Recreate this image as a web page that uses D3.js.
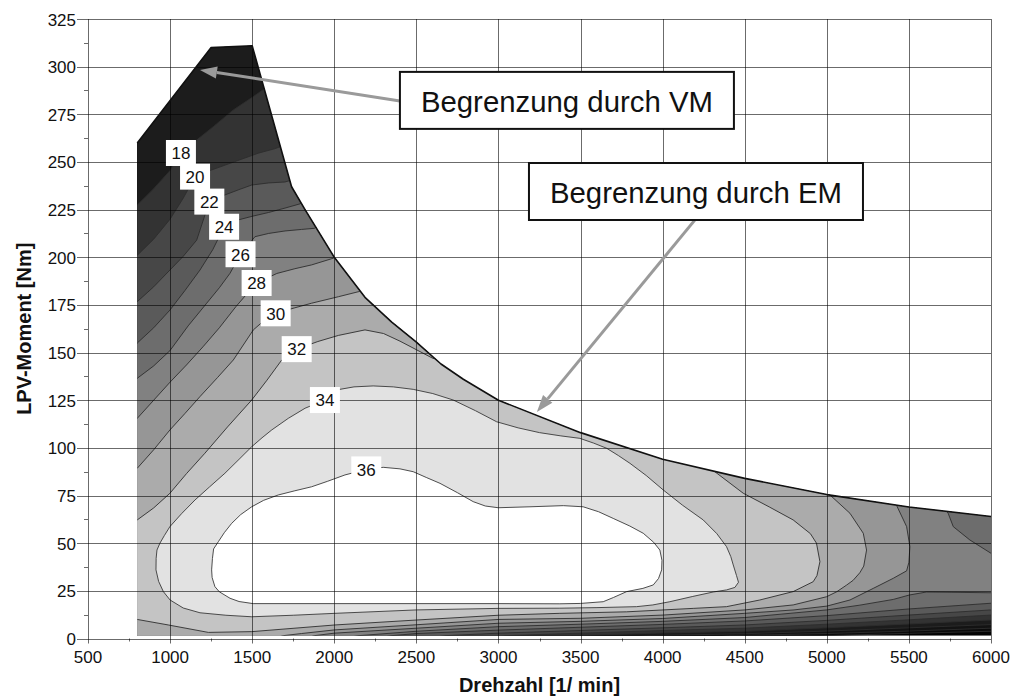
<!DOCTYPE html>
<html>
<head>
<meta charset="utf-8">
<script src="https://cdn.jsdelivr.net/npm/d3@7"></script>
<style>
  html, body { margin: 0; padding: 0; background: #fff; }
  svg { display: block; }
  text { font-family: "Liberation Sans", Arial, Helvetica, sans-serif; }
</style>
</head>
<body>
<svg id="chart" width="1016" height="697"></svg>
<script>
// ---- axes ----
const rpmTicks = d3.range(500, 6001, 500);
const torqueTicks = d3.range(0, 326, 25);

// ---- full-load limit: combustion engine (VM) at low speed, e-machine (EM) above ----
const fullLoadRpm = [800, 800, 1250, 1500, 1740, 1822, 2000, 2187, 2350, 2500, 2650, 2786, 3000, 3500, 4000, 4500, 5000, 5500, 6000, 6000];
const fullLoadNm  = [1.5, 260, 310, 311, 237, 225, 200, 179, 166, 155.5, 144, 136, 125, 108, 94, 84, 75.5, 69, 64, 1.5];

// ---- iso-lines [rpm, Nm] ----
// branches from the 800 rpm edge up to the full-load curve
const upper18 = [[790,226.5],[800,227.4],[900,236],[1000,245.5],[1066,254.7],[1162,261.5],[1263,268.5],[1385,277.3],[1507,284.3],[1560,287.5],[1620,291]];
const upper20 = [[790,200],[800,201],[900,209.5],[1000,220],[1080,231],[1152,242.3],[1243,245.5],[1395,250.2],[1537,254.6],[1640,257],[1700,259]];
const upper22 = [[790,176],[800,176.7],[900,184.5],[999,193.3],[1080,200.5],[1162,209],[1239,229.2],[1334,232.7],[1420,235.5],[1497,237.9],[1600,239],[1700,239.5],[1760,241]];
const upper24 = [[790,154],[800,155],[900,163],[999,172.3],[1090,182.5],[1182,193.3],[1260,204],[1329,216],[1415,219.6],[1500,221.5],[1600,223.5],[1700,225.8],[1790,228],[1830,231]];
const upper26 = [[790,135.5],[800,136.5],[900,143],[999,151],[1110,164],[1223,175.9],[1300,184],[1365,191.6],[1429,201.6],[1517,210.8],[1600,212.5],[1700,213.8],[1800,214.6],[1880,215.2],[1920,218]];
const upper28 = [[790,114.5],[800,115.5],[900,125],[1000,134.5],[1100,143.5],[1200,153],[1300,163],[1400,174],[1470,181],[1527,186.5],[1650,191.5],[1760,194],[1862,196],[1994,199.5],[2030,202]];
const upper30 = [[790,88.5],[800,89.3],[900,99],[999,109.4],[1090,118],[1182,126.9],[1290,137],[1385,146.1],[1507,161.9],[1575,167],[1643,170.6],[1760,173.5],[1862,175.9],[2025,179.3],[2150,182],[2190,184]];
const upper32 = [[790,61.5],[800,62.2],[900,68.5],[999,76.2],[1100,86.5],[1212,97.2],[1350,111],[1497,125.1],[1590,135.5],[1680,146.1],[1771,151.8],[1900,155.8],[2025,159],[2187,161.9],[2300,160],[2400,156],[2500,151.5],[2600,147],[2660,146]];

// branches coming down from the e-machine limit and running back along the low-torque band
const right28 = [[5410,72],[5424,70],[5486,58.7],[5506,48.2],[5500,40],[5486,35.5],[5405,31.6],[5283,26.3],[5141,20.2],[5000,17],[4800,15],[4500,13.2],[4000,10.5],[3500,9],[3000,8],[2500,5.4],[2000,2.8],[1880,1.5],[1840,0.5]];
const right30 = [[5000,77],[5019,75.3],[5141,65.7],[5222,55.2],[5242,46.4],[5225,38],[5201,34.5],[5160,30.5],[5120,28],[5060,24.5],[4998,21.9],[4795,17.6],[4501,15],[4004,12.3],[3502,10.6],[3000,10],[2500,7.2],[2000,4.5],[1800,2.6],[1690,1.5],[1650,0.5]];
const right32 = [[4300,90],[4318,87.5],[4491,76.2],[4650,69],[4795,62.2],[4900,55],[4937,50],[4958,40.3],[4940,33],[4917,29.8],[4795,24.6],[4592,20.2],[4389,16.7],[4186,15.8],[3781,14],[3374,13.2],[3000,12.2],[2502,9.7],[2004,7.1],[1497,3.6],[1233,3.2],[989,7.1],[800,10],[790,10.2]];
const corner26 = [[5720,68],[5739,65.7],[5770,58.7],[5871,51.7],[6000,44.7],[6020,44.5]];

// low-torque band lines running out to the 6000 rpm edge
const bottom12 = [[4900,0.5],[5000,1.5],[5500,2.7],[6000,3.8],[6020,3.8]];
const bottom14 = [[4300,0.5],[4400,1.5],[5000,2.6],[5500,3.9],[6000,5.4],[6020,5.4]];
const bottom16 = [[3800,0.5],[3900,1.5],[4500,2.5],[5000,3.9],[5500,5.6],[6000,7.3],[6020,7.3]];
const bottom18 = [[3350,0.5],[3450,1.5],[4000,2.9],[4500,3.8],[5000,5.6],[5500,7.6],[6000,9.7],[6020,9.7]];
const bottom20 = [[2950,0.5],[3050,1.5],[3500,2.8],[4000,4.2],[4500,5.4],[5000,7.5],[5500,9.8],[6000,12.3],[6020,12.3]];
const bottom22 = [[2600,0.5],[2680,1.5],[3000,2.8],[3500,4.2],[4000,5.6],[4500,7.1],[5000,9.5],[5500,12.3],[6000,15],[6020,15]];
const bottom24 = [[2280,0.5],[2350,1.5],[2500,2.6],[3000,4.4],[3500,5.9],[4000,7.4],[4500,9.2],[5000,12],[5500,15.5],[6000,18.5],[6020,18.5]];
const bottom26 = [[2080,0.5],[2150,1.5],[2500,3.8],[3000,6.2],[3500,7.5],[4000,9],[4500,11],[5000,15],[5201,17.5],[5405,20.5],[5502,22.8],[5607,24.4],[6000,24],[6020,24]];

// closed islands
const loop34 = [[1943,125.1],[2014,130.4],[2120,132],[2237,132.5],[2360,132],[2481,130.7],[2600,128.5],[2725,125.1],[2860,119.5],[2989,113.7],[3120,110.5],[3250,108],[3380,106.3],[3496,105],[3580,102.5],[3659,99.8],[3730,96],[3801,91.9],[3900,85.5],[4004,77.9],[4120,70],[4247,62.2],[4330,55],[4389,48.2],[4415,43],[4430,38.6],[4450,33],[4462,29.5],[4440,26.8],[4390,25.5],[4308,24.4],[4180,22],[4044,19.3],[3940,17.6],[3841,16.7],[3600,16.2],[3374,15.9],[2999,15.8],[2502,15],[2004,13.2],[1750,12.2],[1497,11.4],[1340,12.2],[1182,13.5],[1080,16],[1000,20.2],[959,24.6],[930,30],[914,36],[915,42],[920,46.4],[938,50],[965,54],[999,58.7],[1070,65.5],[1152,72.7],[1240,79.5],[1334,86.7],[1420,94],[1497,100.6],[1560,105.3],[1619,109.4],[1720,115.5],[1822,120.8]];
const loop36 = [[1506,18.3],[1420,19.4],[1365,21.1],[1300,24.5],[1273,27.2],[1256,32],[1253,36],[1258,42],[1265,47],[1294,50.8],[1330,55.5],[1375,60.4],[1430,65],[1497,69.1],[1570,72.5],[1659,75.3],[1760,77.5],[1862,79.6],[1960,82.5],[2065,85.8],[2195,88.7],[2298,89.8],[2400,89],[2481,87.5],[2560,84.5],[2644,81.4],[2750,76.5],[2846,71.8],[2920,69.5],[2999,68.6],[3192,69.1],[3395,69.7],[3516,69.1],[3610,66.5],[3699,63],[3800,59],[3882,55.2],[3945,50.5],[3983,46.4],[3996,41],[3994,36],[3975,31.5],[3943,28.1],[3880,26.3],[3781,24.6],[3700,21.5],[3638,19.3],[3500,18.4],[3374,18.2],[3000,18.3],[2500,18.3],[2000,18.3]];

// iso-line labels
const labelLevels = [18, 20, 22, 24, 26, 28, 30, 32, 34, 36];
const labelRpm    = [1066, 1152, 1239, 1329, 1429, 1527, 1643, 1771, 1943, 2195];
const labelNm     = [254.7, 242.3, 229.2, 216, 201.6, 186.5, 170.6, 151.8, 125.1, 88.7];

// callouts
const calloutText = ["Begrenzung durch VM", "Begrenzung durch EM"];
const calloutBoxRpm = [3417, 4203];     // box centre
const calloutBoxNm  = [282.3, 234.5];
const calloutFromRpm = [2400, 4197];    // arrow start
const calloutFromNm  = [282, 219.6];
const calloutToRpm = [1182, 3234];      // arrow tip
const calloutToNm  = [298.3, 118.8];

// ---- grey shade for each band (value >= level) ----
const bandShade = {
  base: "#030303", 12: "#0b0b0b", 14: "#131313", 16: "#1c1c1c", 18: "#333333", 20: "#474747",
  22: "#5a5a5a", 24: "#6d6d6d", 26: "#818181", 28: "#969696", 30: "#ababab",
  32: "#c4c4c4", 34: "#e2e2e2", 36: "#ffffff"
};

// ---- drawing ----
const svg = d3.select("#chart");
const x = d3.scaleLinear().domain([500, 6000]).range([88, 991]);
const y = d3.scaleLinear().domain([0, 325]).range([638.5, 19]);
const line = d3.line().x(d => x(d[0])).y(d => y(d[1]));

const domainPts = fullLoadRpm.map((r, i) => [r, fullLoadNm[i]]);
svg.append("defs").append("clipPath").attr("id", "mapClip")
  .append("path").attr("d", line(domainPts) + "Z");

// outside extents used to close band polygons beyond the map edges
const TOP = 345, BOT = -5, LEFT = 700, RIGHT = 6100;
const last = a => a[a.length - 1];
const rev = a => a.slice().reverse();

const aboveBottom = b => [[LEFT, BOT], [b[0][0], BOT], ...b, [RIGHT, last(b)[1]], [RIGHT, TOP], [LEFT, TOP]];
const upperBottom = (u, b) => [[LEFT, BOT], [b[0][0], BOT], ...b, [RIGHT, last(b)[1]], [RIGHT, TOP],
  [last(u)[0], TOP], ...rev(u), [LEFT, u[0][1]]];
const upperRight = (u, r) => [...u, [last(u)[0], TOP], [r[0][0], TOP], ...r, [last(r)[0], BOT], [LEFT, BOT], [LEFT, u[0][1]]];

const bands = [
  { level: 12, poly: aboveBottom(bottom12) },
  { level: 14, poly: aboveBottom(bottom14) },
  { level: 16, poly: aboveBottom(bottom16) },
  { level: 18, poly: upperBottom(upper18, bottom18) },
  { level: 20, poly: upperBottom(upper20, bottom20) },
  { level: 22, poly: upperBottom(upper22, bottom22) },
  { level: 24, poly: upperBottom(upper24, bottom24) },
  { level: 26, poly: [[LEFT, BOT], [bottom26[0][0], BOT], ...bottom26, [RIGHT, last(bottom26)[1]],
      [RIGHT, last(corner26)[1]], ...rev(corner26), [corner26[0][0], TOP], [last(upper26)[0], TOP],
      ...rev(upper26), [LEFT, upper26[0][1]]] },
  { level: 28, poly: upperRight(upper28, right28) },
  { level: 30, poly: upperRight(upper30, right30) },
  { level: 32, poly: upperRight(upper32, right32) },
  { level: 34, poly: loop34 },
  { level: 36, poly: loop36 }
];

const map = svg.append("g").attr("clip-path", "url(#mapClip)");
map.append("path").attr("d", line(domainPts) + "Z").attr("fill", bandShade.base);
map.selectAll("path.band").data(bands).join("path")
  .attr("class", "band")
  .attr("d", d => line(d.poly) + "Z")
  .attr("fill", d => bandShade[d.level]);

// iso-lines
const openLines = [bottom12, bottom14, bottom16, bottom18, bottom20, bottom22, bottom24, bottom26,
  upper18, upper20, upper22, upper24, upper26, upper28, upper30, upper32, right28, right30, right32, corner26];
map.selectAll("path.iso").data(openLines).join("path")
  .attr("class", "iso")
  .attr("d", d => line(d))
  .attr("fill", "none").attr("stroke", "#2e2e2e").attr("stroke-width", 0.9);
map.selectAll("path.isoLoop").data([loop34, loop36]).join("path")
  .attr("class", "isoLoop")
  .attr("d", d => line(d) + "Z")
  .attr("fill", "none").attr("stroke", "#3a3a3a").attr("stroke-width", 0.9);

// grid
const grid = svg.append("g").attr("stroke", "#000").attr("stroke-opacity", 0.58).attr("stroke-width", 1);
grid.selectAll("line.v").data(rpmTicks).join("line").attr("class", "v")
  .attr("x1", d => Math.round(x(d)) + 0.5).attr("x2", d => Math.round(x(d)) + 0.5)
  .attr("y1", y(325)).attr("y2", y(0) + 5);
grid.selectAll("line.h").data(torqueTicks).join("line").attr("class", "h")
  .attr("y1", d => Math.round(y(d)) + 0.5).attr("y2", d => Math.round(y(d)) + 0.5)
  .attr("x1", x(500) - 11).attr("x2", x(6000));
// minor ticks
grid.selectAll("line.my").data(d3.range(12.5, 325, 25)).join("line").attr("class", "my")
  .attr("y1", d => Math.round(y(d)) + 0.5).attr("y2", d => Math.round(y(d)) + 0.5)
  .attr("x1", x(500) - 4).attr("x2", x(500));
grid.selectAll("line.mx").data(d3.range(750, 6000, 500)).join("line").attr("class", "mx")
  .attr("x1", d => Math.round(x(d)) + 0.5).attr("x2", d => Math.round(x(d)) + 0.5)
  .attr("y1", y(0)).attr("y2", y(0) + 3);

// full-load curve
svg.append("path")
  .attr("d", line(domainPts.slice(1, domainPts.length - 1)))
  .attr("fill", "none").attr("stroke", "#111").attr("stroke-width", 1.6).attr("stroke-linejoin", "round");

// tick labels
svg.append("g").selectAll("text").data(torqueTicks).join("text")
  .attr("x", 76).attr("y", d => y(d) + 6.5)
  .attr("text-anchor", "end").attr("font-size", 17).attr("fill", "#111")
  .text(d => d);
svg.append("g").selectAll("text").data(rpmTicks).join("text")
  .attr("x", d => x(d)).attr("y", 663)
  .attr("text-anchor", "middle").attr("font-size", 17).attr("fill", "#111")
  .text(d => d);

// axis titles
svg.append("text").attr("x", (x(500) + x(6000)) / 2).attr("y", 692)
  .attr("text-anchor", "middle").attr("font-size", 20).attr("font-weight", "bold").attr("fill", "#111")
  .text("Drehzahl [1/ min]");
svg.append("text").attr("transform", `translate(30.5,${(y(0) + y(325)) / 2}) rotate(-90)`)
  .attr("text-anchor", "middle").attr("font-size", 20).attr("font-weight", "bold").attr("fill", "#111")
  .text("LPV-Moment [Nm]");

// iso-line labels
const lab = svg.append("g").selectAll("g").data(labelLevels).join("g")
  .attr("transform", (d, i) => `translate(${x(labelRpm[i])},${y(labelNm[i])})`);
lab.append("rect").attr("x", -15).attr("y", -13).attr("width", 30).attr("height", 26).attr("fill", "#fff");
lab.append("text").attr("text-anchor", "middle").attr("y", 6.3).attr("font-size", 17).attr("fill", "#111")
  .text(d => d);

// callouts
const headLen = 17, headW = 6;
calloutText.forEach((t, i) => {
  const x0 = x(calloutFromRpm[i]), y0 = y(calloutFromNm[i]);
  const x1 = x(calloutToRpm[i]), y1 = y(calloutToNm[i]);
  const a = Math.atan2(y1 - y0, x1 - x0);
  const bx = x1 - headLen * Math.cos(a), by = y1 - headLen * Math.sin(a);
  svg.append("line").attr("x1", x0).attr("y1", y0).attr("x2", bx).attr("y2", by)
    .attr("stroke", "#9a9a9a").attr("stroke-width", 3);
  svg.append("path")
    .attr("d", `M${x1},${y1}L${bx - headW * Math.sin(a)},${by + headW * Math.cos(a)}L${bx + headW * Math.sin(a)},${by - headW * Math.cos(a)}Z`)
    .attr("fill", "#9a9a9a");
  const cx = x(calloutBoxRpm[i]), cy = y(calloutBoxNm[i]);
  svg.append("rect").attr("x", cx - 167).attr("y", cy - 28.5).attr("width", 334).attr("height", 57)
    .attr("fill", "#fff").attr("stroke", "#111").attr("stroke-width", 2);
  svg.append("text").attr("x", cx).attr("y", cy + 11.5).attr("text-anchor", "middle")
    .attr("font-size", 29).attr("fill", "#111")
    .attr("textLength", 292).attr("lengthAdjust", "spacingAndGlyphs")
    .text(t);
});
</script>
</body>
</html>
